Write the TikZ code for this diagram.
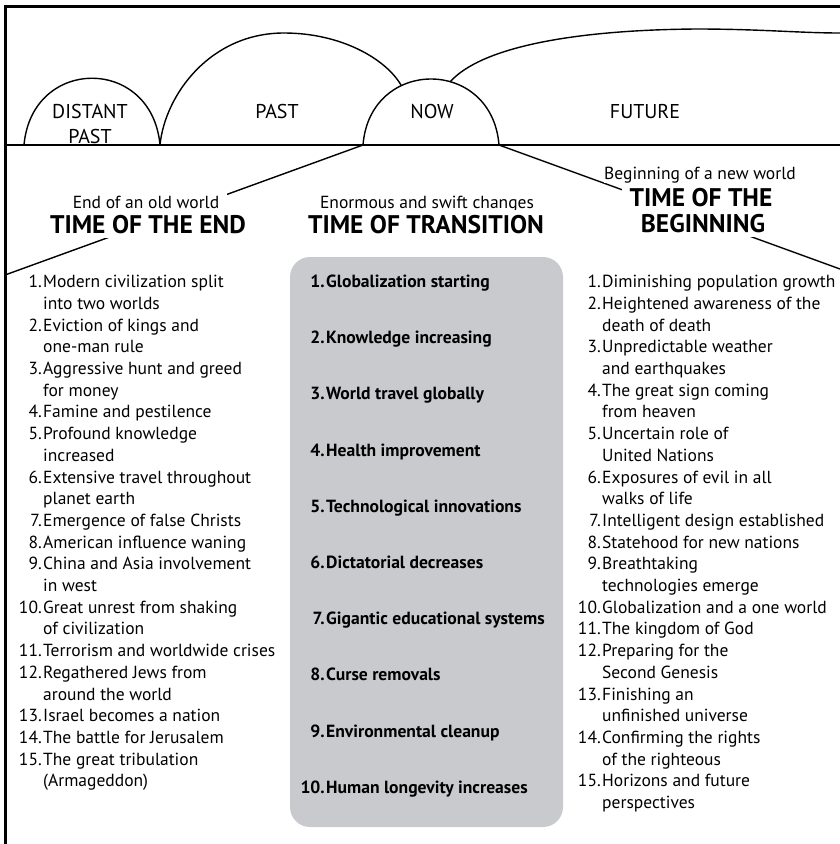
\documentclass[tikz,border=0pt]{standalone}
\usepackage{fontspec}
\setmainfont{PT Sans}
\definecolor{boxgray}{RGB}{201,202,206}
\begin{document}
\begin{tikzpicture}[x=1pt,y=-1pt,
  arcline/.style={line width=1.4pt, line join=round},
  frameline/.style={line width=3pt},
  conn/.style={line width=1.4pt},
  lbl/.style={font=\fontsize{20}{22}\selectfont, inner sep=0pt, anchor=base},
  subt/.style={font=\fontsize{17.5}{20}\selectfont, fill=white, inner xsep=8pt, inner ysep=4pt, anchor=base},
  ttl/.style={font=\bfseries\fontsize{25.5}{28}\selectfont, fill=white, inner xsep=8pt, inner ysep=4.5pt, anchor=base},
  itm/.style={font=\fontsize{17.5}{20}\selectfont, inner sep=0pt},
  mid/.style={font=\bfseries\fontsize{17.6}{20}\selectfont, inner sep=0pt}]
\useasboundingbox (0,0) rectangle (840,844);
% arcs
\draw[arcline] (160,145) .. controls (165,95) and (210,33) .. (284,33)
   .. controls (340,33) and (385,58) .. (401,85);
\draw[arcline] (450,82) .. controls (480,48) and (570,30) .. (696,29)
   .. controls (760,29) and (800,33) .. (840,33);
\draw[arcline] (24,145) .. controls (32,56) and (152,56) .. (160,145);
\draw[arcline] (363,145) .. controls (370,57) and (492,57) .. (499,145);
\draw[arcline] (5,145) -- (840,145);
\draw[frameline] (5,844) -- (5,6) -- (840,6);
% arc labels
\node[lbl] (distant) at (90,118.5) {DISTANT};
\node[lbl] (distantpast) at (90,143) {PAST};
\node[lbl] (past) at (277,118.5) {PAST};
\node[lbl] (now) at (432,118.5) {NOW};
\node[lbl] (future) at (645,118.5) {FUTURE};
% connectors
\coordinate (nowL) at (363,145);
\coordinate (nowR) at (499,145);
\coordinate (edgeL) at (5,275);
\coordinate (edgeR) at (840,269);
\draw[conn] (nowL) -- (edgeL);
\draw[conn] (nowR) -- (edgeR);
% headers
\node[subt] (endsub) at (146,208) {End of an old world};
\node[ttl] (endttl) at (148,233) {TIME OF THE END};
\node[subt] (trsub) at (427,208) {Enormous and swift changes};
\node[ttl] (trttl) at (426,233) {TIME OF TRANSITION};
\node[subt, inner sep=0pt] (begsub) at (700,179) {Beginning of a new world};
\node[ttl] (begttl1) at (701,206) {TIME OF THE};
\node[ttl] (begttl2) at (703,232) {BEGINNING};
% middle box
\node[fill=boxgray, rounded corners=20pt, inner sep=0pt, outer sep=0pt,
      minimum width=273pt, minimum height=570pt] (midbox) at (426.5,542) {};
\foreach [count=\i] \num/\txt in {1./Globalization starting, 2./Knowledge increasing,
  3./World travel globally, 4./Health improvement, 5./Technological innovations,
  6./Dictatorial decreases, 7./Gigantic educational systems, 8./Curse removals,
  9./Environmental cleanup, 10./Human longevity increases}{
  \node[mid, anchor=base east] (MN\i) at (325,{287.5+(\i-1)*56.2}) {\num};
  \node[mid, anchor=base west] (MT\i) at (326,{287.5+(\i-1)*56.2}) {\txt};
}
% left list
\foreach [count=\i] \num/\txt in {1./Modern civilization split, /into two worlds,
  2./Eviction of kings and, /one-man rule, 3./Aggressive hunt and greed, /for money,
  4./Famine and pestilence, 5./Profound knowledge, /increased,
  6./Extensive travel throughout, /planet earth, 7./Emergence of false Christs,
  8./American influence waning, 9./China and Asia involvement, /in west,
  10./Great unrest from shaking, /of civilization, 11./Terrorism and worldwide crises,
  12./Regathered Jews from, /around the world, 13./Israel becomes a nation,
  14./The battle for Jerusalem, 15./The great tribulation, /{(Armageddon)}}{
  \ifx\num\empty\else
  \node[itm, anchor=base east] (LN\i) at (42,{287.7+(\i-1)*21.7}) {\num};
  \fi
  \node[itm, anchor=base west] (LT\i) at (43,{287.7+(\i-1)*21.7}) {\txt};
}
% right list
\foreach [count=\i] \num/\txt in {1./Diminishing population growth,
  2./Heightened awareness of the, /death of death, 3./Unpredictable weather,
  /and earthquakes, 4./The great sign coming, /from heaven, 5./Uncertain role of,
  /United Nations, 6./Exposures of evil in all, /walks of life,
  7./Intelligent design established, 8./Statehood for new nations, 9./Breathtaking,
  /technologies emerge, 10./Globalization and a one world, 11./The kingdom of God,
  12./Preparing for the, /Second Genesis, 13./Finishing an, /unfinished universe,
  14./Confirming the rights, /of the righteous, 15./Horizons and future, /perspectives}{
  \ifx\num\empty\else
  \node[itm, anchor=base east] (RN\i) at (601,{287.7+(\i-1)*21.7}) {\num};
  \fi
  \node[itm, anchor=base west] (RT\i) at (602,{287.7+(\i-1)*21.7}) {\txt};
}
\end{tikzpicture}
\end{document}
